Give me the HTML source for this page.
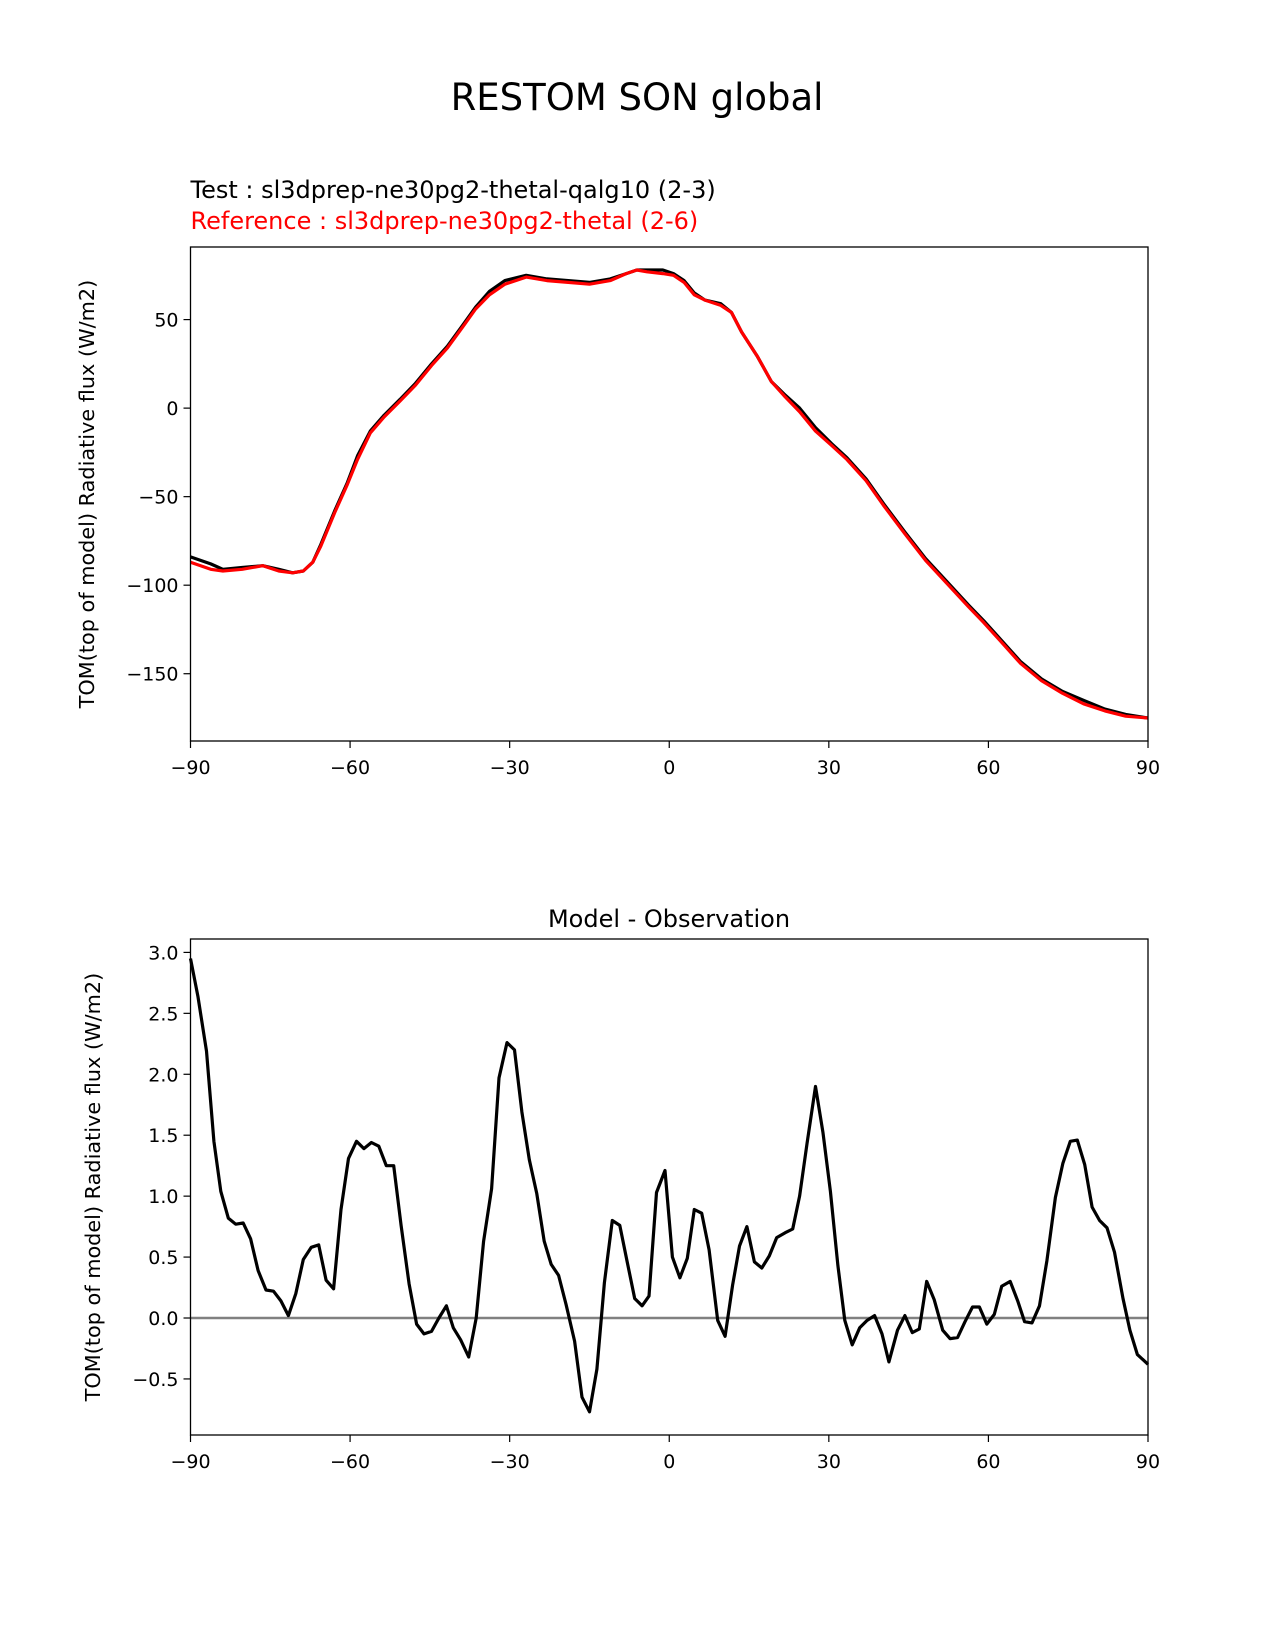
<!DOCTYPE html>
<html><head><meta charset="utf-8"><style>
body{margin:0;background:#fff}
svg{display:block;font-family:"DejaVu Sans","Liberation Sans",sans-serif}
</style></head><body>
<svg id="fig" width="1275" height="1650" viewBox="0 0 1275 1650">
<rect width="1275" height="1650" fill="#fff"/>
<text x="637" y="110" font-size="37" text-anchor="middle">RESTOM SON global</text>
<text x="190.5" y="198" font-size="24">Test : sl3dprep-ne30pg2-thetal-qalg10 (2-3)</text>
<text x="190.5" y="229" font-size="24" fill="#ff0000">Reference : sl3dprep-ne30pg2-thetal (2-6)</text>
<text x="669" y="927" font-size="24" text-anchor="middle">Model - Observation</text>
<g id="top"></g>
<g id="bot"></g>
</svg>
<script>
const topLat=[-90,-86.2,-83.9,-80.3,-76.4,-73.4,-70.8,-68.8,-67,-65.5,-62.9,-60.5,-58.6,-56.2,-53.6,-50.6,-47.7,-44.7,-41.7,-38.8,-36.4,-33.8,-30.9,-26.9,-23,-19,-15,-11.1,-8.1,-6.1,-4.2,-1.2,0.8,2.8,4.7,6.7,9.7,11.7,13.6,16.6,19.2,21.6,24.5,27.5,30.5,33.4,37,40.3,44.3,48.2,52.2,56.2,59.1,62.1,66,70,73.9,77.9,81.9,85.8,90];
const refVals=[-87,-91,-92,-91,-89,-92,-93,-92,-87,-78,-59,-43,-29,-14,-5,4,13,24,34,46,56,64,70,74,72,71,70,72,76,78,77,76,75,71,64,61,58,54,43,29,15,7,-2,-13,-21,-29,-41,-55,-71,-86,-99,-112,-121,-131,-144,-154,-161,-167,-171,-174,-175];
const testVals=[-84,-88,-91,-90,-89,-91,-93,-92,-87,-77,-58,-42,-27,-13,-4,5,14,25,35,47,57,66,72,75,73,72,71,73,76,78,78,78,76,72,65,61,59,54,43,29,15,8,0,-11,-20,-28,-40,-54,-70,-85,-98,-111,-120,-130,-143,-153,-160,-165,-170,-173,-175];
const topTicks=[-150,-100,-50,0,50];
const xTicks=[-90,-60,-30,0,30,60,90];
const diffLat=[-90,-88.6,-87,-85.6,-84.3,-82.9,-81.5,-80.1,-78.7,-77.3,-75.8,-74.4,-73,-71.6,-70.2,-68.8,-67.3,-65.9,-64.5,-63.1,-61.7,-60.3,-58.8,-57.4,-56,-54.6,-53.2,-51.8,-50.4,-48.9,-47.5,-46.1,-44.7,-43.3,-41.9,-40.6,-39.2,-37.7,-36.3,-34.9,-33.4,-32,-30.5,-29.1,-27.7,-26.3,-24.9,-23.5,-22.2,-20.8,-19.4,-17.8,-16.4,-15,-13.6,-12.2,-10.7,-9.3,-7.9,-6.5,-5.1,-3.8,-2.4,-0.8,0.6,2,3.4,4.7,6.1,7.5,9.1,10.5,11.9,13.2,14.6,16,17.4,18.8,20.2,21.8,23.2,24.5,25.9,27.5,28.9,30.3,31.7,33,34.4,35.8,37.2,38.6,40,41.3,42.9,44.3,45.7,47,48.4,49.8,51.4,52.8,54.2,55.6,57,58.3,59.7,61.1,62.5,64.1,65.5,66.8,68.2,69.6,71,72.6,74,75.4,76.7,78.1,79.5,80.9,82.3,83.7,85.3,86.6,88,90];
const diffVals=[2.95,2.64,2.19,1.45,1.04,0.82,0.77,0.78,0.65,0.39,0.23,0.22,0.14,0.02,0.2,0.48,0.58,0.6,0.31,0.24,0.89,1.31,1.45,1.39,1.44,1.41,1.25,1.25,0.76,0.28,-0.05,-0.13,-0.11,0,0.1,-0.08,-0.18,-0.32,0,0.63,1.06,1.97,2.26,2.2,1.69,1.3,1.02,0.63,0.44,0.35,0.11,-0.19,-0.65,-0.77,-0.42,0.29,0.8,0.76,0.46,0.16,0.1,0.18,1.03,1.21,0.5,0.33,0.49,0.89,0.86,0.56,-0.02,-0.15,0.27,0.59,0.75,0.46,0.41,0.51,0.66,0.7,0.73,1.0,1.43,1.9,1.52,1.04,0.43,-0.02,-0.22,-0.08,-0.02,0.02,-0.13,-0.36,-0.1,0.02,-0.12,-0.09,0.3,0.15,-0.1,-0.17,-0.16,-0.03,0.09,0.09,-0.05,0.03,0.26,0.3,0.14,-0.03,-0.04,0.1,0.47,0.99,1.27,1.45,1.46,1.26,0.91,0.8,0.74,0.54,0.16,-0.1,-0.3,-0.38];
const botTicks=[-0.5,0.0,0.5,1.0,1.5,2.0,2.5,3.0];
const NS='http://www.w3.org/2000/svg';
function mk(parent,tag,attrs,name,txt){const e=document.createElementNS(NS,tag);for(const k in attrs)e.setAttribute(k,attrs[k]);


if(txt!==undefined)e.textContent=txt;parent.appendChild(e);return e;}
const L=190.5,R=1148;
function xs(v){return L+(v+90)/180*(R-L);}
function fmt(v){return (v<0?'\u2212':'')+Math.abs(v);}
function axes(g,T,B,ymin,ymax,yt,dec,ylab){
 const ys=v=>B-(v-ymin)/(ymax-ymin)*(B-T);
 xTicks.forEach(t=>{const x=xs(t);mk(g,'line',{x1:x,x2:x,y1:B,y2:B+7,stroke:'#000','stroke-width':1.2},'x-tick');
  mk(g,'text',{x:x,y:B+33,'font-size':19,'text-anchor':'middle'},'x-tick-label',fmt(t));});
 yt.forEach(t=>{const y=ys(t);mk(g,'line',{x1:L-7,x2:L,y1:y,y2:y,stroke:'#000','stroke-width':1.2},'y-tick');
  mk(g,'text',{x:L-12,y:y+7,'font-size':19,'text-anchor':'end'},'y-tick-label',dec?(t<0?'\u2212':'')+Math.abs(t).toFixed(1):fmt(t));});
 const cy=(T+B)/2,lx=ylab;
 mk(g,'text',{x:lx,y:cy,'font-size':20.8,'text-anchor':'middle',transform:`rotate(-90 ${lx} ${cy})`},'y-axis-title','TOM(top of model) Radiative flux (W/m2)');
 return ys;}
function line(g,xsArr,ysArr,ys,color,name,w){const d=xsArr.map((v,i)=>(i?'L':'M')+xs(v).toFixed(1)+','+ys(ysArr[i]).toFixed(1)).join('');
 mk(g,'path',{d:d,fill:'none',stroke:color,'stroke-width':w,'stroke-linejoin':'round'},name);}
const gt=document.getElementById('top');
const T1=247,B1=741;
const ys1=axes(gt,T1,B1,-188,91,topTicks,false,94);
line(gt,topLat,testVals,ys1,'#000','test-line',3.2);
line(gt,topLat,refVals,ys1,'#ff0000','reference-line',3.2);
mk(gt,'rect',{x:L,y:T1,width:R-L,height:B1-T1,fill:'none',stroke:'#000','stroke-width':1.3},'top-plot-frame');
const gb=document.getElementById('bot');
const T2=939,B2=1435;
const ys2=axes(gb,T2,B2,-0.96,3.11,botTicks,true,100);
mk(gb,'line',{x1:L,x2:R,y1:ys2(0),y2:ys2(0),stroke:'#808080','stroke-width':2.5},'zero-line');
line(gb,diffLat,diffVals,ys2,'#000','difference-line',3.2);
mk(gb,'rect',{x:L,y:T2,width:R-L,height:B2-T2,fill:'none',stroke:'#000','stroke-width':1.3},'bottom-plot-frame');
</script>
</body></html>
